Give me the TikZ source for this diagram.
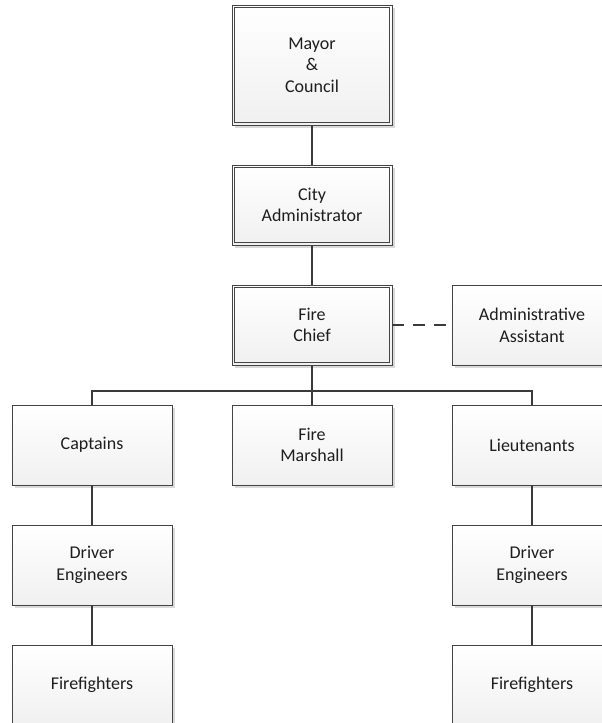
\documentclass[tikz,border=0pt]{standalone}
\usepackage{fontspec}
\setmainfont{Carlito}
\usetikzlibrary{shadows}
\definecolor{linegray}{HTML}{454545}
\definecolor{wiregray}{HTML}{3A3A3A}
\definecolor{boxbot}{HTML}{F0F0F0}
\definecolor{shadowgray}{HTML}{DADADA}
\definecolor{textcol}{HTML}{1E1E1E}
\tikzset{
  orgbox/.style={draw=linegray, line width=0.9pt, top color=white, bottom color=boxbot,
    minimum width=160pt, minimum height=80pt, inner sep=0pt, align=center,
    text=textcol, font=\fontsize{18}{21.7}\selectfont,
    drop shadow={shadow xshift=3pt, shadow yshift=-3pt, fill=shadowgray, opacity=1}},
  innerline/.style={draw=linegray, line width=0.8pt},
  wire/.style={draw=wiregray, line width=1.6pt},
  dashwire/.style={wire, dash pattern=on 12pt off 9pt}
}
\begin{document}
\begin{tikzpicture}[x=1pt, y=-1pt]
  \useasboundingbox (0,0) rectangle (602,723);
  \clip (0,0) rectangle (602,723);

  % executive chain
  \node[orgbox, minimum height=120pt] (mayor) at (312,65) {Mayor\\\&\\Council};
  \node[orgbox] (city)  at (312,205) {City\\Administrator};
  \node[orgbox] (chief) at (312,325) {Fire\\Chief};
  \node[orgbox] (asst)  at (532,325) {Administrative\\Assistant};

  % second frame of the senior offices
  \foreach \n in {mayor, city, chief}
    \draw[innerline] ([shift={(3pt,-3pt)}]\n.north west) rectangle ([shift={(-3pt,3pt)}]\n.south east);

  % department ranks
  \node[orgbox] (capt)  at (92,445)  {Captains};
  \node[orgbox] (marsh) at (312,445) {Fire\\Marshall};
  \node[orgbox] (lieut) at (532,445) {Lieutenants};
  \node[orgbox] (drvL)  at (92,565)  {Driver\\Engineers};
  \node[orgbox] (drvR)  at (532,565) {Driver\\Engineers};
  \node[orgbox] (ffL)   at (92,685)  {Firefighters};
  \node[orgbox] (ffR)   at (532,685) {Firefighters};

  \coordinate (bus) at (312,391);

  % reporting lines
  \draw[wire] (mayor) -- (city);
  \draw[wire] (city) -- (chief);
  \draw[dashwire] (chief) -- (asst);
  \draw[wire] (chief) -- (bus);
  \draw[wire] (capt.north) |- (bus) -| (lieut.north);
  \draw[wire] (bus) -- (marsh);
  \draw[wire] (capt) -- (drvL);
  \draw[wire] (drvL) -- (ffL);
  \draw[wire] (lieut) -- (drvR);
  \draw[wire] (drvR) -- (ffR);
\end{tikzpicture}
\end{document}
